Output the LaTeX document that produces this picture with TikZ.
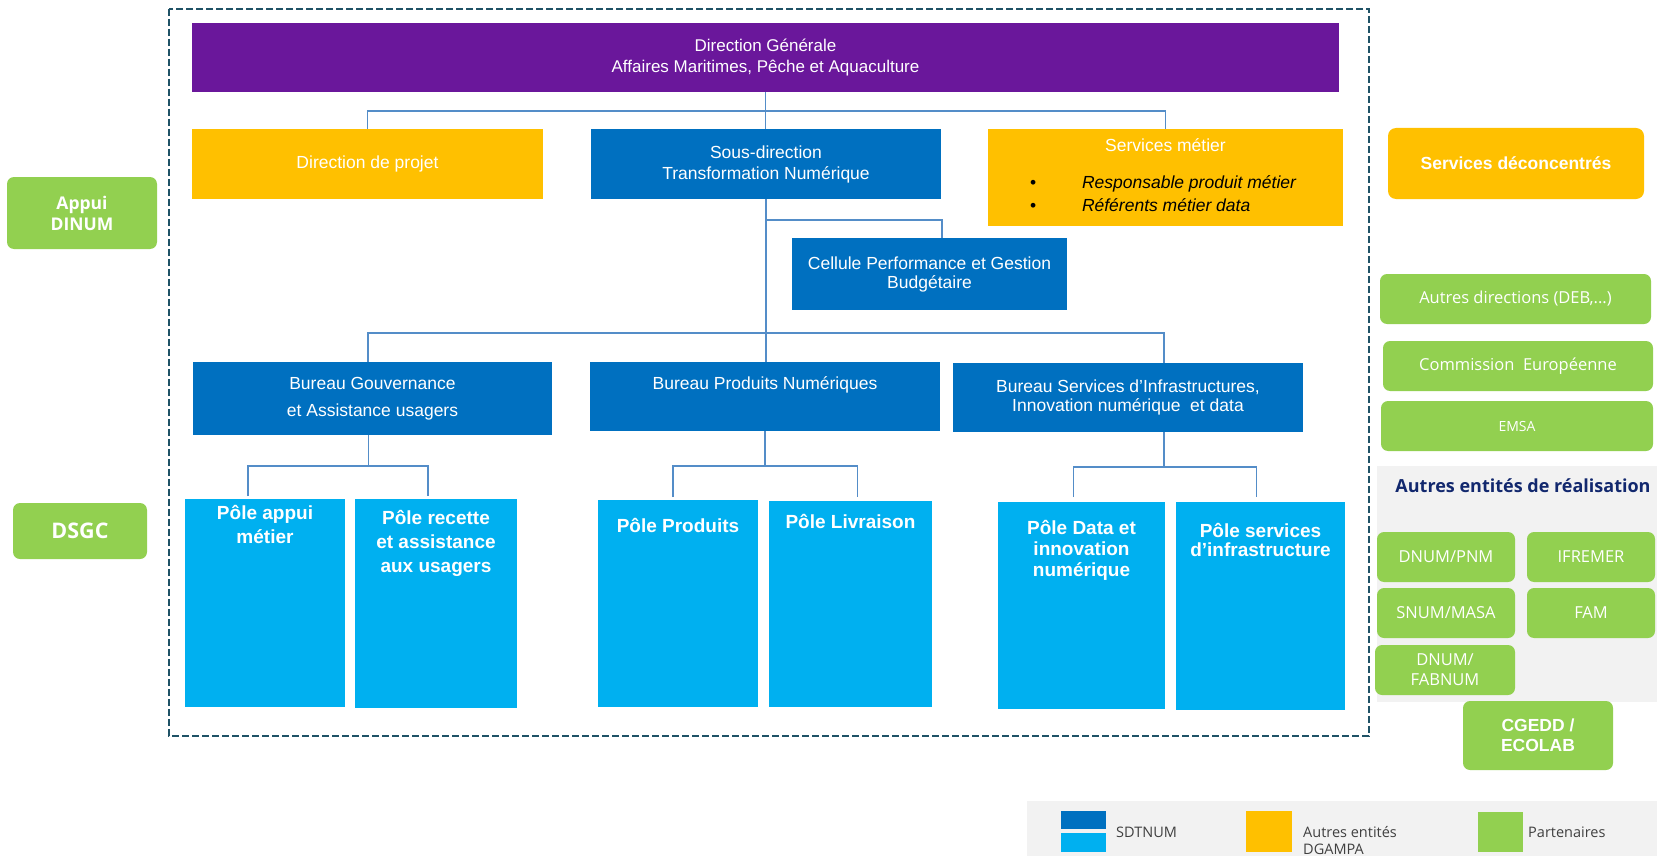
\documentclass[tikz,border=0pt]{standalone}
\usepackage{fontspec}
\setmainfont{Liberation Sans}
\newfontfamily\osans{Open Sans}
\usetikzlibrary{calc}
\definecolor{dgpurple}{RGB}{106,23,155}
\definecolor{sdblue}{RGB}{0,112,192}
\definecolor{poleblue}{RGB}{0,176,240}
\definecolor{dgyellow}{RGB}{255,192,0}
\definecolor{pgreen}{RGB}{146,208,80}
\definecolor{lgrey}{RGB}{242,242,242}
\definecolor{frameteal}{RGB}{31,82,102}
\definecolor{connblue}{RGB}{84,141,200}
\definecolor{titlenavy}{RGB}{18,40,110}
\definecolor{legtext}{RGB}{64,64,64}
\newcommand\tb[4]{\parbox[c][#2][t]{#1}{\centering\rule{0pt}{#3}#4\par}}
\tikzset{
 box/.style={anchor=north west, inner sep=0pt, outer sep=0pt, text=white},
 bluebox/.style={box, fill=sdblue, align=center, font=\fontsize{17.5}{21}\selectfont},
 polebox/.style={box, fill=poleblue, font=\bfseries\fontsize{19}{24}\selectfont},
 yelbox/.style={box, fill=dgyellow, align=center, font=\fontsize{17.5}{21}\selectfont},
 partner/.style={box, fill=pgreen, rounded corners=7pt, align=center, font=\osans\fontsize{16.5}{20}\selectfont},
 partnerbold/.style={partner, font=\bfseries\fontsize{17.5}{20}\selectfont},
 conn/.style={draw=connblue, line width=1.3pt},
 cadre/.style={draw=frameteal, line width=1.8pt, dash pattern=on 7pt off 3pt},
 legtxt/.style={anchor=west, inner sep=0pt, text=legtext, align=left, font=\osans\fontsize{14.5}{17}\selectfont},
}
\begin{document}
\begin{tikzpicture}[x=1pt,y=-1pt]
\useasboundingbox (0,0) rectangle (1657,856);
% dashed frame
\draw[cadre] (169,9) rectangle (1369,736);
% top level
\node[box, fill=dgpurple, align=center, minimum width=1147pt, minimum height=69pt, font=\fontsize{17}{21.5}\selectfont] (dg) at (192,23) {Direction Générale\\Affaires Maritimes, Pêche et Aquaculture};
\node[yelbox, minimum width=351pt, minimum height=70pt] (dp) at (192,129) {Direction de projet};
\node[bluebox, minimum width=350pt, minimum height=70pt] (sd) at (591,129) {Sous-direction\\Transformation Numérique};
\node[box, fill=dgyellow, font=\fontsize{17.5}{23}\selectfont] (sm) at (988,129) {\parbox[c][97pt][t]{355pt}{\centering\rule{0pt}{22pt}Services métier\par\vspace{14.5pt}\raggedright\color{black}\itshape
\hspace*{42pt}\makebox[52pt][l]{\upshape\textbullet}Responsable produit métier\par
\hspace*{42pt}\makebox[52pt][l]{\upshape\textbullet}Référents métier data\par}};
\node[bluebox, minimum width=275pt, minimum height=72pt, font=\fontsize{17.5}{19}\selectfont] (cel) at (792,238) {Cellule Performance et Gestion\\Budgétaire};
% bureaux
\node[bluebox, minimum width=359pt, minimum height=73pt, font=\fontsize{17.5}{27}\selectfont] (bg) at (193,362) {Bureau Gouvernance\\et Assistance usagers};
\node[box, fill=sdblue, font=\fontsize{17.5}{21}\selectfont] (bp) at (590,362) {\tb{350pt}{69pt}{27pt}{Bureau Produits Numériques}};
\node[bluebox, minimum width=350pt, minimum height=69pt, font=\fontsize{17.5}{19}\selectfont] (bs) at (953,363) {Bureau Services d’Infrastructures,\\Innovation numérique\ \ et data};
% poles
\node[polebox] (p1) at (185,499) {\tb{160pt}{208pt}{20pt}{Pôle appui\\métier}};
\node[polebox] (p2) at (355,499) {\tb{162pt}{209pt}{25pt}{Pôle recette\\et assistance\\aux usagers}};
\node[polebox] (pp) at (598,500) {\tb{160pt}{207pt}{32pt}{Pôle Produits}};
\node[polebox] (pl) at (769,501) {\tb{163pt}{206pt}{27pt}{Pôle Livraison}};
\node[polebox, font=\bfseries\fontsize{19}{21}\selectfont] (pd) at (998,502) {\tb{167pt}{207pt}{32pt}{Pôle Data et\\innovation\\numérique}};
\node[polebox, font=\bfseries\fontsize{19}{19.5}\selectfont] (ps) at (1176,502) {\tb{169pt}{208pt}{35pt}{Pôle services\\d’infrastructure}};
% connectors
\draw[conn] (dg.south) -- (dg.south |- sd.north);
\draw[conn] (dp.north) -- ++(0,-18) -| (sm.north);
\draw[conn] (sd.south) -- (sd.south |- bp.north);
\draw[conn] (sd.south) ++(0,21) -| ([xshift=12.5pt]cel.north);
\draw[conn] ([xshift=-4.5pt]bg.north) -- ++(0,-29) -| ([xshift=36pt]bs.north);
\draw[conn] ([xshift=-4pt]bg.south) -- ++(0,30);
\draw[conn] ([xshift=-17pt,yshift=3pt]p1.north) -- ++(0,-30) -| ([xshift=-8pt,yshift=3pt]p2.north);
\draw[conn] (bp.south) -- ++(0,35);
\draw[conn] ([xshift=-5pt,yshift=3pt]pp.north) -- ++(0,-31) -| ([xshift=7pt,yshift=4pt]pl.north);
\draw[conn] ([xshift=36pt]bs.south) -- ++(0,35);
\draw[conn] ([xshift=-8pt,yshift=5pt]pd.north) -- ++(0,-30) -| ([xshift=-4pt,yshift=5pt]ps.north);
% left partners
\node[partner, font=\osans\bfseries\fontsize{17.5}{21}\selectfont, minimum width=150pt, minimum height=72pt] (dinum) at (7,177) {Appui\\DINUM};
\node[partner, font=\osans\bfseries\fontsize{21.5}{24}\selectfont, minimum width=134pt, minimum height=56pt] (dsgc) at (13,503) {DSGC};
% right side
\node[box, fill=dgyellow, rounded corners=8pt, align=center, font=\bfseries\fontsize{17.5}{21}\selectfont, minimum width=256pt, minimum height=71pt] (sdc) at (1388,128) {Services déconcentrés};
\node[partner, minimum width=271pt, minimum height=50pt] (adir) at (1380,274) {Autres directions (DEB,...)};
\node[partner, minimum width=270pt, minimum height=50pt] (ce) at (1383,341) {Commission\ \ Européenne};
\node[partner, font=\osans\fontsize{14}{17}\selectfont, minimum width=272pt, minimum height=50pt] (emsa) at (1381,401) {EMSA};
\node[box, fill=lgrey, text=titlenavy, font=\osans\bfseries\fontsize{18}{22}\selectfont] (aer) at (1377,466) {\tb{280pt}{236pt}{26.5pt}{\hspace*{12pt}Autres entités de réalisation}};
\node[partner, minimum width=138pt, minimum height=50pt] (pnm) at (1377,532) {DNUM/PNM};
\node[partner, minimum width=128pt, minimum height=50pt] (ifr) at (1527,532) {IFREMER};
\node[partner, minimum width=138pt, minimum height=50pt] (snum) at (1377,588) {SNUM/MASA};
\node[partner, minimum width=128pt, minimum height=50pt] (fam) at (1527,588) {FAM};
\node[partner, minimum width=140pt, minimum height=50pt] (fab) at (1375,645) {DNUM/\\FABNUM};
\node[partnerbold, minimum width=150pt, minimum height=69pt] (cgedd) at (1463,701) {CGEDD /\\ECOLAB};
% legend
\node[box, fill=lgrey, minimum width=630pt, minimum height=55pt] (leg) at (1027,801) {};
\node[box, fill=sdblue, minimum width=45pt, minimum height=18pt] (lsw1) at (1061,811) {};
\node[box, fill=poleblue, minimum width=45pt, minimum height=19pt] (lsw2) at (1061,833) {};
\node[box, fill=dgyellow, minimum width=46pt, minimum height=41pt] (lsw3) at (1246,811) {};
\node[box, fill=pgreen, minimum width=45pt, minimum height=40pt] (lsw4) at (1478,812) {};
\node[legtxt] (l1) at (1116,832) {SDTNUM};
\node[legtxt] (l2) at (1303,841) {Autres entités\\DGAMPA};
\node[legtxt] (l3) at (1528,832) {Partenaires};
\end{tikzpicture}
\end{document}
